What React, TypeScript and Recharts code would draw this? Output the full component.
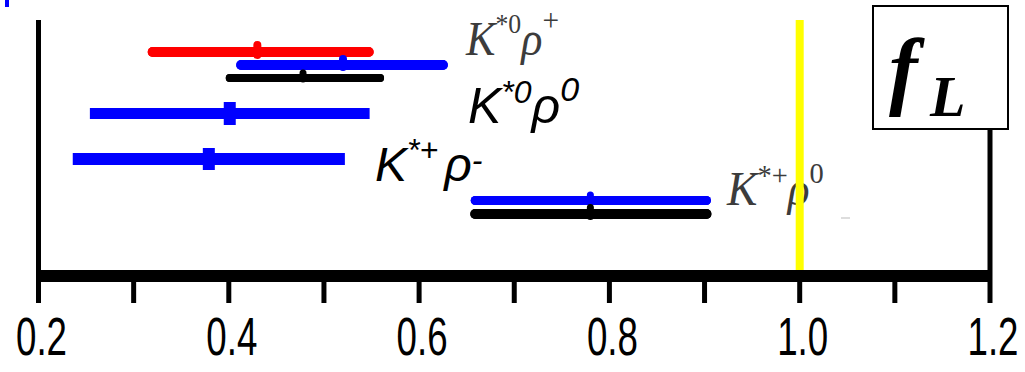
import React from 'react';
import { ScatterChart, Scatter, ErrorBar, XAxis, YAxis, ReferenceLine, Customized } from 'recharts';

// f_L measurements (one row each)
const rowNames = ['K*0rho+ (red)', 'K*0rho+ (blue)', 'K*0rho+ (black)', 'K*0rho0', 'K*+rho-', 'K*+rho0 (blue)', 'K*+rho0 (black)'];
const rowLevels = [32, 45, 58, 93.5, 139, 180.5, 194];
const centers = [0.43, 0.52, 0.478, 0.401, 0.379, 0.78, 0.78];
const lows = [0.32, 0.413, 0.401, 0.254, 0.236, 0.659, 0.659];
const highs = [0.547, 0.625, 0.559, 0.548, 0.522, 0.902, 0.902];
const xTicks = [0.2, 0.3, 0.4, 0.5, 0.6, 0.7, 0.8, 0.9, 1.0, 1.1, 1.2];

const rowStyles = [
  { color: '#ff0000', width: 10, cap: 'round', marker: 'dot', mw: 8, mh: 18 },
  { color: '#0000ff', width: 10, cap: 'round', marker: 'dot', mw: 8, mh: 16 },
  { color: '#000000', width: 8, cap: 'round', marker: 'dot', mw: 7, mh: 13 },
  { color: '#0000ff', width: 11, cap: 'butt', marker: 'square', mw: 12, mh: 23 },
  { color: '#0000ff', width: 12, cap: 'butt', marker: 'square', mw: 12, mh: 22 },
  { color: '#0000ff', width: 9, cap: 'round', marker: 'dot', mw: 7, mh: 14 },
  { color: '#000000', width: 10, cap: 'round', marker: 'dot', mw: 7, mh: 16 },
];

const rows = rowNames.map((name, i) => ({
  name,
  data: [{ x: centers[i], y: rowLevels[i], err: [centers[i] - lows[i], highs[i] - centers[i]] }],
}));

const XTick = (props: any) => {
  const { x, y, payload, index } = props;
  if (index % 2 === 1) return <g />;
  return (
    <g transform={`translate(${x + 3},${y + 50}) scale(0.68,1)`}>
      <text x={0} y={0} textAnchor="middle" fontSize={54} fontFamily="Liberation Sans, Arial, sans-serif" fill="#000">
        {Number(payload.value).toFixed(1)}
      </text>
    </g>
  );
};

const makeShape = (st: any) => (props: any) => {
  const { cx, cy } = props;
  if (cx == null || cy == null) return <g />;
  if (st.marker === 'square') {
    return <rect x={cx - st.mw / 2} y={cy - st.mh / 2} width={st.mw} height={st.mh} fill={st.color} />;
  }
  return <rect x={cx - st.mw / 2} y={cy - st.mh / 2 - 2} width={st.mw} height={st.mh} rx={st.mw / 2} fill={st.color} />;
};

const Decor = () => (
  <g>
    {/* f_L box */}
    <rect x={873} y={6} width={135} height={123} fill="#fff" stroke="#000" strokeWidth={2} />
    <text x={889} y={98} fontFamily="Liberation Serif, Times New Roman, serif" fontStyle="italic" fontWeight="bold" fontSize={86} fill="#000">f</text>
    <text x={930} y={116} fontFamily="Liberation Serif, Times New Roman, serif" fontStyle="italic" fontWeight="bold" fontSize={58} fill="#000">L</text>

    {/* K*0 rho+ (serif, grey) */}
    <g transform="translate(466,55) scale(0.92,1)">
      <text x={0} y={0} fontFamily="Liberation Serif, Times New Roman, serif" fill="#3c3c3c" fontSize={48}>
        <tspan fontStyle="italic">K</tspan>
        <tspan fontSize={28} dy={-22}>*0</tspan>
        <tspan fontStyle="italic" dy={22}>ρ</tspan>
        <tspan fontSize={32} dy={-24}>+</tspan>
      </text>
    </g>

    {/* K*0 rho0 (sans italic) */}
    <text x={468} y={123} fontFamily="Liberation Sans, Arial, sans-serif" fontStyle="italic" fill="#000" fontSize={50}>
      <tspan>K</tspan>
      <tspan fontSize={32} dy={-20}>*0</tspan>
      <tspan dy={20}>ρ</tspan>
      <tspan fontSize={34} dy={-22}>0</tspan>
    </text>

    {/* K*+ rho- (sans italic) */}
    <text x={375} y={181} fontFamily="Liberation Sans, Arial, sans-serif" fontStyle="italic" fill="#000" fontSize={48}>
      <tspan>K</tspan>
      <tspan fontSize={32} dy={-20}>*+</tspan>
      <tspan dx={6} dy={20}>ρ</tspan>
      <tspan fontSize={32} dy={-10}>-</tspan>
    </text>

    {/* K*+ rho0 (serif, grey) */}
    <g transform="translate(727,205) scale(0.95,1)">
      <text x={0} y={0} fontFamily="Liberation Serif, Times New Roman, serif" fill="#3c3c3c" fontSize={48}>
        <tspan fontStyle="italic">K</tspan>
        <tspan fontSize={30} dy={-20}>*+</tspan>
        <tspan fontStyle="italic" dy={20}>ρ</tspan>
        <tspan fontSize={30} dy={-22}>0</tspan>
      </text>
    </g>

    {/* small stray marks */}
    <rect x={5} y={0} width={4} height={7} fill="#0000ff" />
    <line x1={841} y1={218} x2={850} y2={218} stroke="#bbb" strokeWidth={1} />
  </g>
);

export default function App() {
  return (
    <div style={{ position: 'absolute', left: 0, top: 0, width: 1025, height: 372, background: '#fff' }}>
      <ScatterChart width={1025} height={372} margin={{ top: 20, right: 35, bottom: 0, left: 38.5 }}>
        <XAxis
          type="number"
          dataKey="x"
          domain={[0.2, 1.2]}
          ticks={xTicks}
          interval={0}
          allowDataOverflow
          height={96}
          tickSize={27}
          axisLine={{ stroke: '#000', strokeWidth: 12 }}
          tickLine={{ stroke: '#000', strokeWidth: 5 }}
          tick={<XTick />}
        />
        <YAxis
          type="number"
          dataKey="y"
          domain={[0, 256]}
          reversed
          allowDataOverflow
          width={0}
          tick={false}
          tickLine={false}
          axisLine={false}
        />
        <ReferenceLine x={0.2} stroke="#000" strokeWidth={5} ifOverflow="visible" />
        <ReferenceLine x={1.0} stroke="#ffff00" strokeWidth={8} ifOverflow="visible" />
        <ReferenceLine
          segment={[{ x: 1.2, y: 109 }, { x: 1.2, y: 256 }]}
          stroke="#000"
          strokeWidth={5}
          ifOverflow="visible"
        />
        {rows.map((r, i) => (
          <Scatter
            key={r.name}
            name={r.name}
            data={r.data}
            isAnimationActive={false}
            shape={makeShape(rowStyles[i])}
          >
            <ErrorBar
              dataKey="err"
              direction="x"
              width={0}
              stroke={rowStyles[i].color}
              strokeWidth={rowStyles[i].width}
              strokeLinecap={rowStyles[i].cap as any}
              isAnimationActive={false}
            />
          </Scatter>
        ))}
        <Customized component={Decor} />
      </ScatterChart>
    </div>
  );
}
